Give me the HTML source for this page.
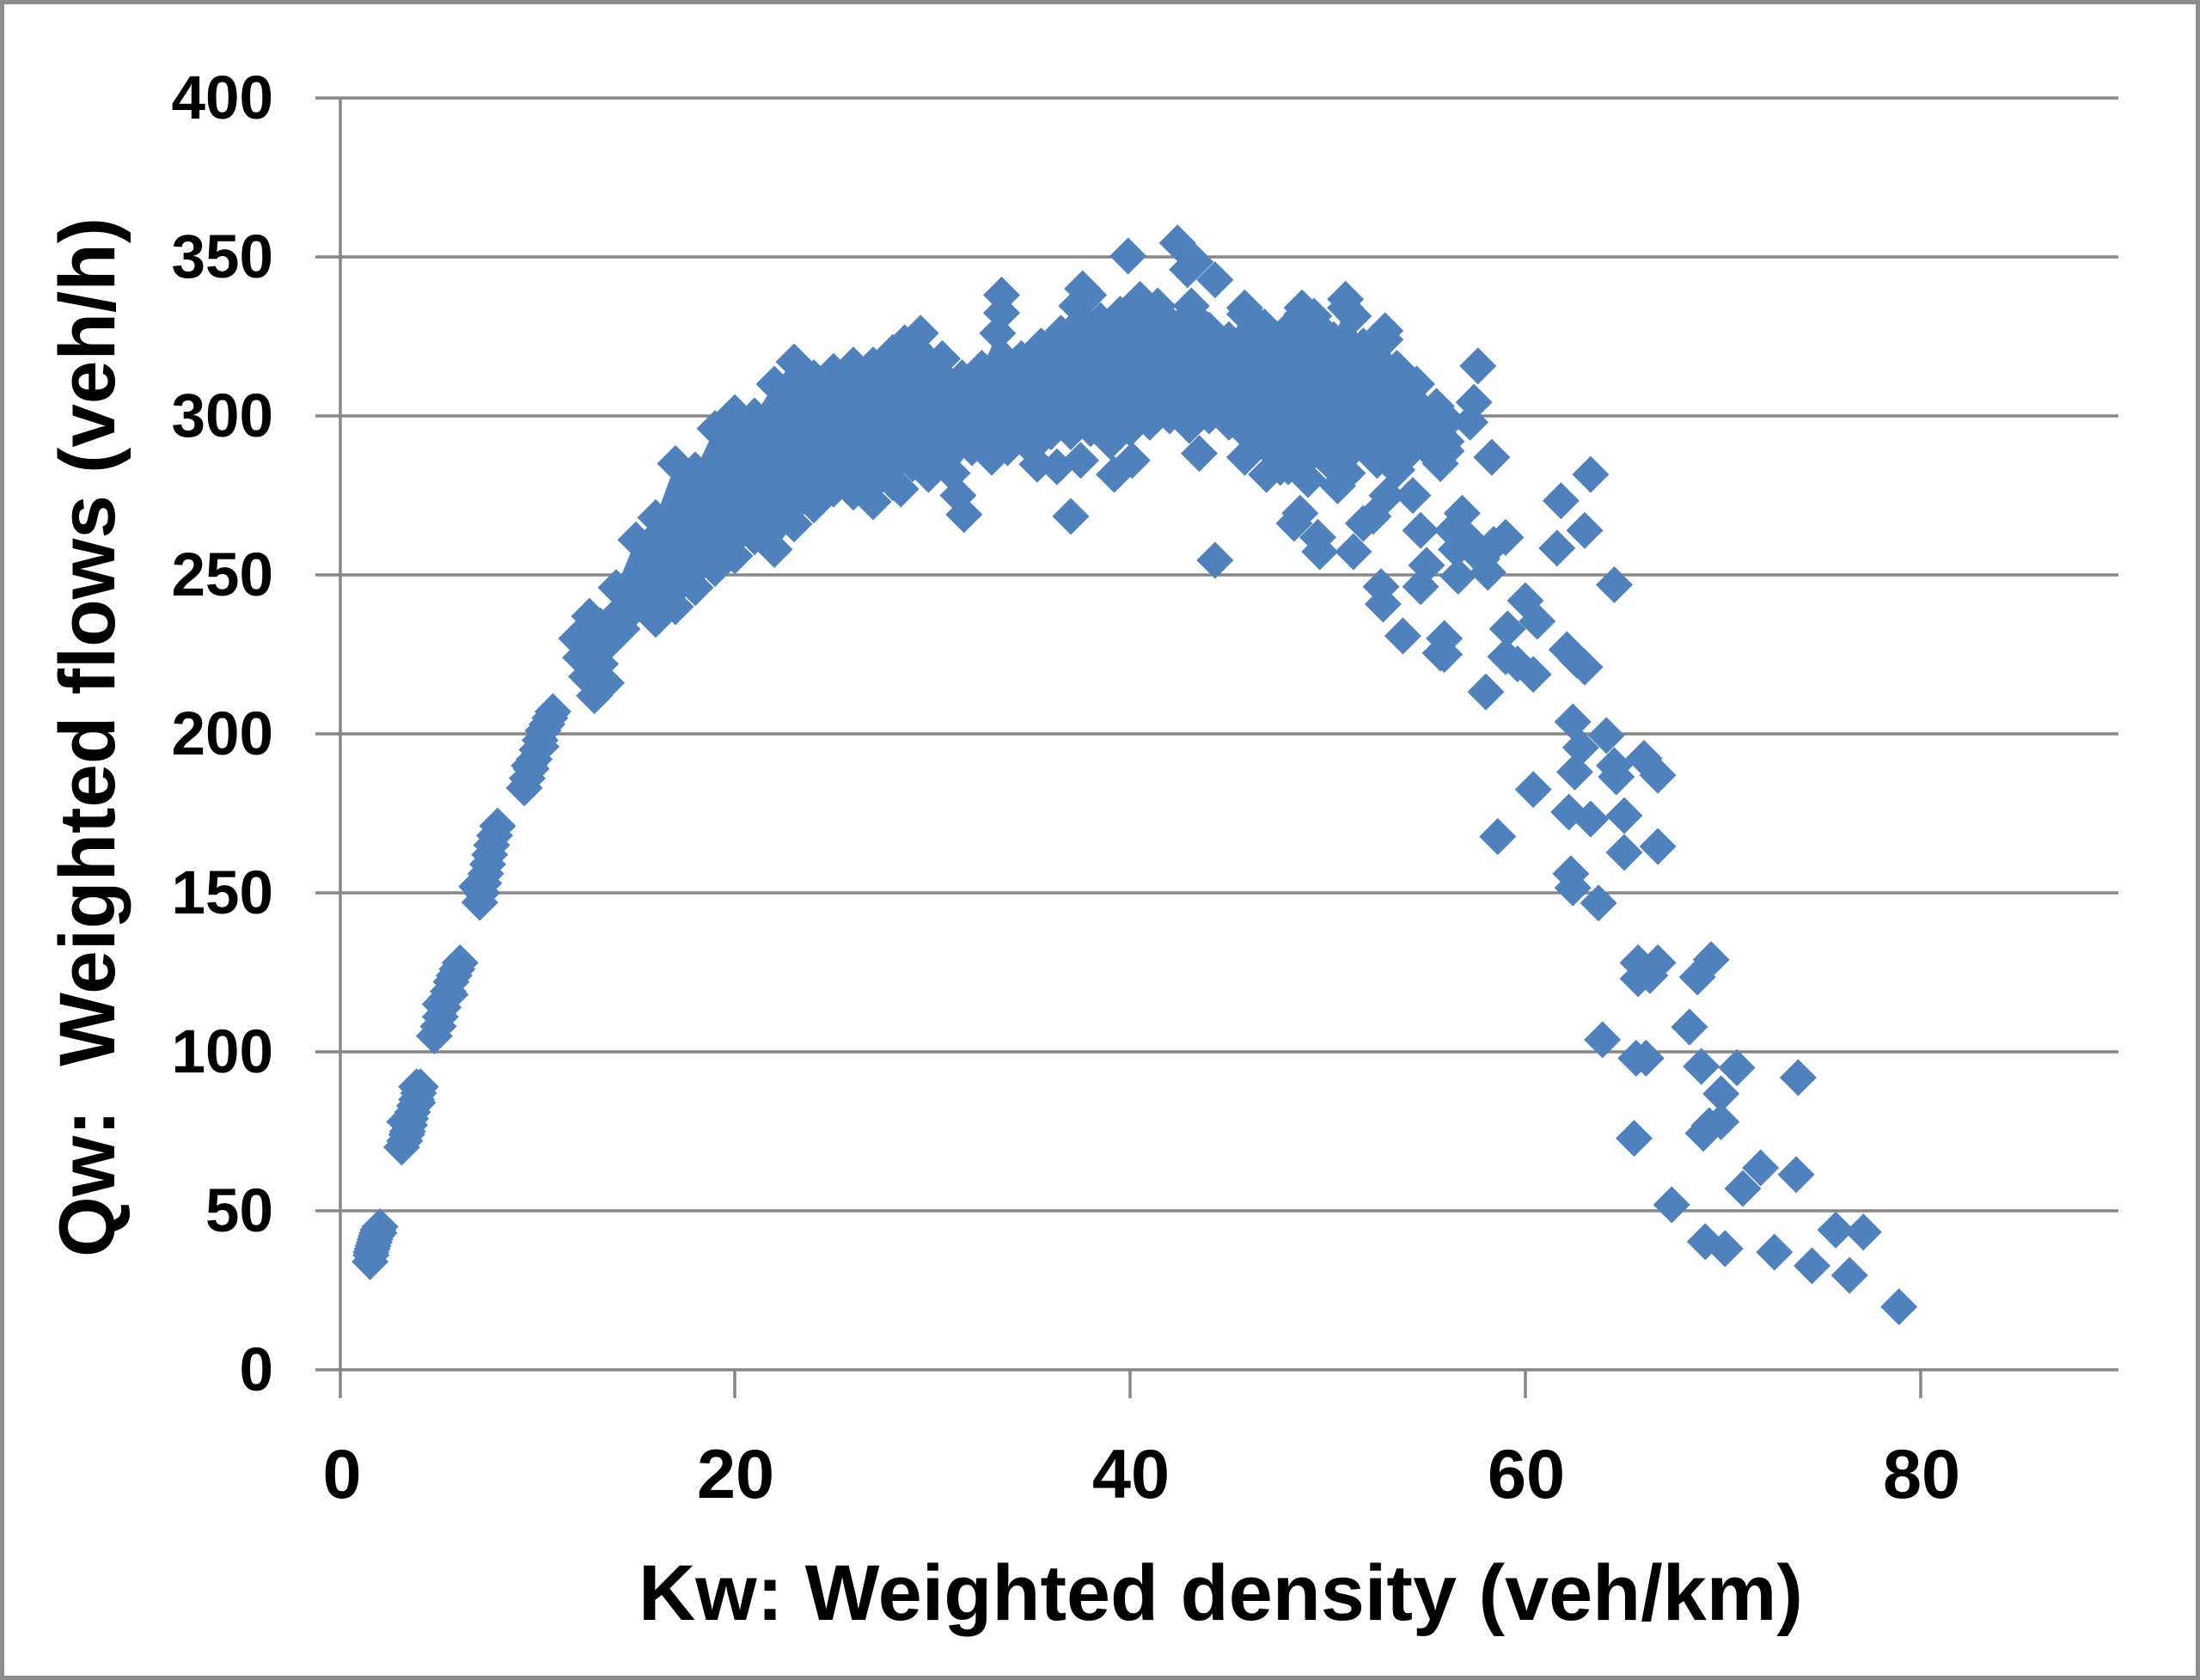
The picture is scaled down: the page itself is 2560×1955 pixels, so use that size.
<!DOCTYPE html>
<html>
<head>
<meta charset="utf-8">
<style>
html,body{margin:0;padding:0;background:#fff;}
svg{display:block;}
text{font-family:"Liberation Sans",Arial,sans-serif;font-weight:bold;fill:#000;}
</style>
</head>
<body>
<svg width="2560" height="1955" viewBox="0 0 2560 1955" xmlns="http://www.w3.org/2000/svg">
<rect x="0" y="0" width="2560" height="1955" fill="#fff"/>
<rect x="2.5" y="2.5" width="2555" height="1950" fill="#fff" stroke="#8c8c8c" stroke-width="5"/>

<g stroke="#878787" stroke-width="3.5" fill="none">
<line x1="367" y1="114" x2="2465" y2="114"/>
<line x1="367" y1="299" x2="2465" y2="299"/>
<line x1="367" y1="484" x2="2465" y2="484"/>
<line x1="367" y1="669" x2="2465" y2="669"/>
<line x1="367" y1="854" x2="2465" y2="854"/>
<line x1="367" y1="1039" x2="2465" y2="1039"/>
<line x1="367" y1="1224" x2="2465" y2="1224"/>
<line x1="367" y1="1409" x2="2465" y2="1409"/>
<line x1="367" y1="1594" x2="2465" y2="1594"/>
<line x1="396" y1="114" x2="396" y2="1627"/>
<line x1="855" y1="1594" x2="855" y2="1627"/>
<line x1="1315" y1="1594" x2="1315" y2="1627"/>
<line x1="1775" y1="1594" x2="1775" y2="1627"/>
<line x1="2235" y1="1594" x2="2235" y2="1627"/>
</g>

<g font-size="71" text-anchor="end">
<text x="318" y="138">400</text>
<text x="318" y="323">350</text>
<text x="318" y="508">300</text>
<text x="318" y="693">250</text>
<text x="318" y="878">200</text>
<text x="318" y="1063">150</text>
<text x="318" y="1248">100</text>
<text x="318" y="1433">50</text>
<text x="318" y="1618">0</text>
</g>

<g font-size="81" text-anchor="middle">
<text x="398" y="1743">0</text>
<text x="856" y="1743">20</text>
<text x="1316" y="1743">40</text>
<text x="1776" y="1743">60</text>
<text x="2236" y="1743">80</text>
</g>

<text x="743" y="1885" font-size="92" textLength="1355" lengthAdjust="spacingAndGlyphs">Kw: Weighted density (veh/km)</text>
<text transform="translate(133,1463) rotate(-90)" font-size="92" textLength="1210" lengthAdjust="spacingAndGlyphs" style="white-space:pre">Qw:  Weighted flows (veh/h)</text>

<defs>
<marker id="dm" markerUnits="userSpaceOnUse" markerWidth="4" markerHeight="14" refX="0" refY="0" orient="0" overflow="visible">
<path d="M0,5.81L0.935,0L0,-5.81L-0.935,0Z" fill="#4f81bd"/>
</marker>
</defs>

<g transform="translate(395,1594) scale(23,-3.7)" fill="#4f81bd">
<polygon points="14,246 15,261 16,268 17,285 18,283 19,296 20,301 21,300 22,310 23,317 24,312 25,314 26,316 27,316 28,320 28,279 27,273 26,276 25,277 24,272 23,266 22,258 21,262 20,256 19,252 18,246 17,240 16,236 15,240 14,232"/>
<polygon points="28,320 28.6,323 29.4,326 30.5,318 31.5,312 32.5,315 33.3,326 34.5,318 35.5,322 36.5,326 37.6,330 38.5,330 39.5,332 40.5,334 41.4,332 42.2,328 43.1,332 44,327 45,324 45.8,332 46.8,328 47.8,326 48.7,332 49.5,328 50.3,324 50.9,334 51.8,322 52.9,324 53.5,315 54.5,310 55.5,303 56,298 56,292 55,290 54,292 53,290 52,292 51,288 50,286 49,287 48,290 47,290 46,294 45,298 44,300 43,297 42,300 41,298 40,296 39,292 38,296 37,295 36,295 35,290 34,292 33,287 32,290 31,282 30,283 29,285 28,279"/>

<g fill="none" stroke="none" marker-start="url(#dm)" marker-mid="url(#dm)" marker-end="url(#dm)">
<polyline points="1.55,34 1.6,36 1.6,37 1.65,38 1.7,39 1.75,40 1.8,41 1.85,42 1.9,43 1.95,44 2.05,45 2,43"/>
<polyline points="3.15,70 3.3,72 3.4,74 3.45,75 3.55,77 3.6,79 3.7,81 3.8,83 3.9,85 4,87 4.1,89 3.3,78 3.9,89 3.95,84"/>
<polyline points="4.8,105 5,108 5.1,111 5.25,114 5.4,117 5.5,119 5.65,122 5.8,124 5.95,126 6.1,128 5.1,115 5.6,118"/>
<polyline points="7.1,147 7.2,150 7.3,153 7.4,156 7.5,159 7.6,162 7.7,165 7.85,168 8,171 6.95,152"/>
<polyline points="9.35,183 9.5,186 9.7,189 9.85,192 10,195 10.15,198 10.3,201 10.5,203 10.65,205 10.8,207 9.6,190 10.2,196"/>
<polyline points="12.9,212 12.5,218 12.2,224 12,230 12.65,237 13.2,222 13.5,228 13.2,234 13.8,236 14.3,233 12.8,226 13.5,216"/>
<polyline points="14,246 15,261 16,268 17,285 18,283 19,296 20,301 21,300 22,310 23,317 24,312 25,314 26,316 27,316 28,320 28,279 27,273 26,276 25,277 24,272 23,266 22,258 21,262 20,256 19,252 18,246 17,240 16,236 15,240 14,232"/>
<polyline points="28.6,323 29.4,326 30.5,318 31.5,312 32.5,315 33.3,326 34.5,318 35.5,322 36.5,326 37.6,330 38.5,330 39.5,332 40.5,334 41.4,332 42.2,328 43.1,332 44,327 45,324 45.8,332 46.8,328 47.8,326 48.7,332 49.5,328 50.3,324 50.9,334 51.8,322 52.9,324 53.5,315 54.5,310 55.5,303 56,298"/>
<polyline points="56,292 55,290 54,292 53,290 52,292 51,288 50,286 49,287 48,290 47,290 46,294 45,298 44,300 43,297 42,300 41,298 40,296 39,292 38,296 37,295 36,295 35,290 34,292 33,287 32,290 31,282 30,283 29,285"/>
<polyline points="42.4,354.4 39.9,350.3 43.3,348.4 44.3,342.8 33.5,338 33.5,332.4 37.6,340 37.3,334.6 40.5,336.7 41.4,334.6 43.1,334.6 45.8,334 48.7,334 50.9,336.7 52.9,326.8 42.9,346 37.9,338 38.3,327 46.3,330 49.3,331.4 51.3,331.4"/>
<polyline points="31.3,275 31.6,269 37,268.4 44.3,254.6 35.3,284.8 37.5,286 39.2,281.6 40.1,286 43.5,288.2 45.8,287 46.9,281.6 47.6,283.8 48.3,266.2 48.6,269.4 49.6,257.3 49.5,261.8 51.3,257.3 52.3,268.4 51.8,266.2 52.7,246.3 52.8,240.8 53.8,230.8 55.7,225.4 55,253 54.7,246.3 54.3,275 54.7,264 51,282 50.3,286 50.5,278 55.7,296 55.7,285 53,275 53.5,283 54,288 52.5,286 49,280 48,284 28.4,277 29.8,281.6 33.8,290 36.3,284"/>
<polyline points="57.6,315.7 57.4,304.3 57.2,298 56,299 56,289 58.3,287 63.3,281.6 61.8,273.3 63,264 61.6,258.4 64.5,246.9 56.8,269.4 56.3,264 56.6,249.6 58.1,250.8 57.5,257.3 59,261.8 58.4,259.6 55.9,230 55.9,225 60,241.9 60.6,235.4 59.1,233 59,224.3 60.4,218.7 59.6,222 62.1,226.5 63,221 62.6,223.2 58,213.2 56.5,258 57,262 57.8,255"/>
<polyline points="62.4,203.8 62.8,195.7 64.1,199.5 66,192.3 64.5,190 66.7,187 64.6,186.5 62.5,188 60.4,182.5 62.2,175.4 63.3,173.2 65,174.3 58.6,167.7 65,162.7 66.7,164.6 62.3,156 62.4,151.6 63.7,146.8 65.7,128 66.3,124 66.7,128 65.7,123 69.4,129 68.7,123.5 68.3,107.8 63.9,103.8 65.6,98 66.1,98 68.9,95.4 70.7,95 73.8,91.9 69.9,86.8 69.9,78 69,74.4 69.3,76.8 65.5,72.8 71.9,63.5 71,57 73.7,61.4 67.4,51.9 69.1,40.3 70.1,38.1 72.6,37 75.7,44 77.1,43.3 74.5,32.7 76.4,29.7 78.9,19.8"/>
</g>
</g>
</svg>
</body>
</html>
